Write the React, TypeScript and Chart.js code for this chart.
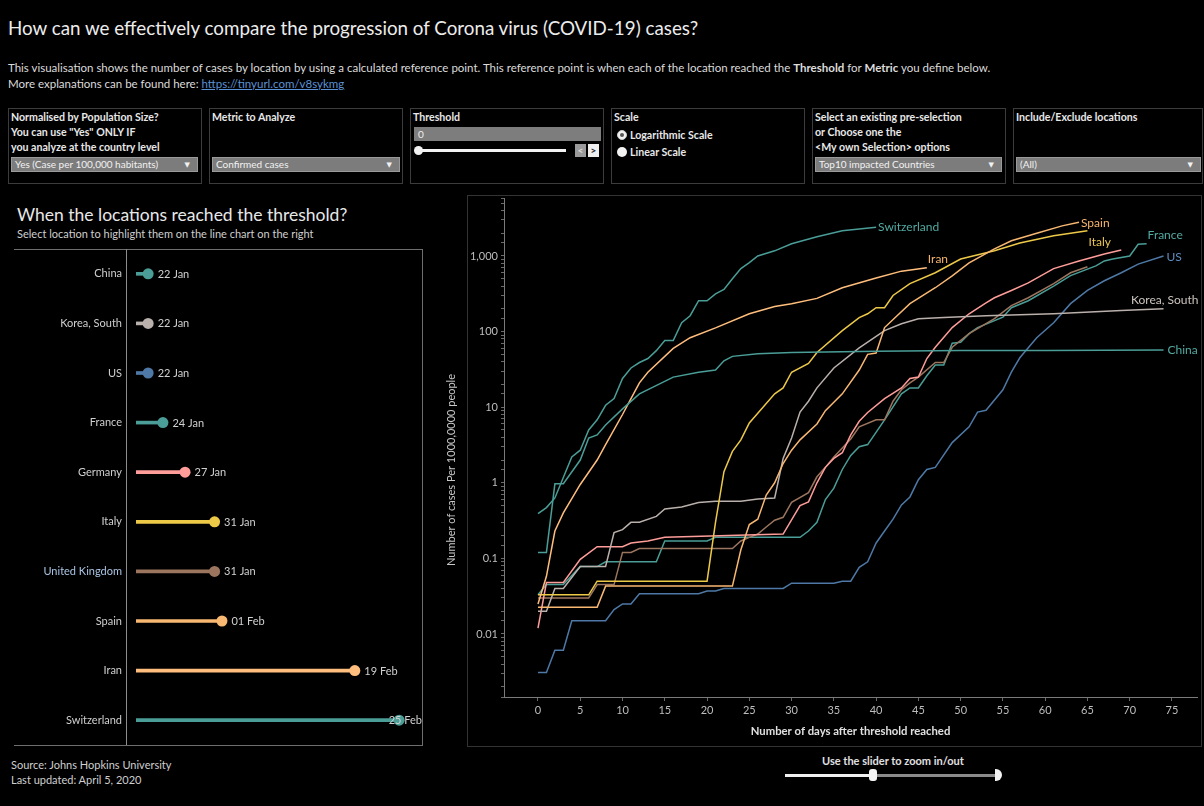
import React, { useEffect, useRef } from "react";
import { Chart, registerables } from "chart.js";
Chart.register(...registerables);

const FONT = "Lato, 'Noto Sans', 'DejaVu Sans', sans-serif";

// ---------------- Lollipop data ----------------
const locations = ["China", "Korea, South", "US", "France", "Germany", "Italy", "United Kingdom", "Spain", "Iran", "Switzerland"];
const thresholdDates = ["2020-01-22", "2020-01-22", "2020-01-22", "2020-01-24", "2020-01-27", "2020-01-31", "2020-01-31", "2020-02-01", "2020-02-19", "2020-02-25"];
const thresholdLabels = ["22 Jan", "22 Jan", "22 Jan", "24 Jan", "27 Jan", "31 Jan", "31 Jan", "01 Feb", "19 Feb", "25 Feb"];

// ---------------- Progression data (days after threshold, cases per 100k) ----------------
const chinaDays = [0, 1, 2, 3, 5, 6, 7, 8, 10, 12, 16, 19, 21, 22, 23, 26, 30, 40, 50, 60, 74];
const chinaCases = [0.12, 0.12, 0.97, 0.97, 2.0, 3.9, 4.3, 5.8, 9.5, 15, 25, 29, 31, 41, 47, 51, 53, 55, 56, 56, 57];

const switzerlandDays = [0, 1, 2, 4, 5, 6, 7, 8, 9, 10, 11, 12, 13, 14, 15, 16, 17, 18, 19, 20, 21, 22, 23, 24, 25, 26, 28, 30, 33, 36, 40];
const switzerlandCases = [0.39, 0.47, 0.63, 2.2, 2.7, 5.0, 6.8, 10.6, 13, 24, 33, 39, 44, 56, 76, 76, 131, 162, 256, 256, 316, 360, 500, 680, 815, 1000, 1170, 1450, 1800, 2150, 2400];

const iranDays = [0, 1, 2, 3, 5, 7, 8, 10, 11, 12, 13, 16, 18, 21, 25, 28, 30, 33, 36, 40, 43, 46];
const iranCases = [0.025, 0.058, 0.23, 0.4, 0.95, 2.0, 3.2, 8, 13, 21, 29, 60, 83, 112, 172, 215, 233, 275, 380, 510, 630, 700];

const spainDays = [0, 7, 8, 23, 24, 25, 26, 27, 28, 29, 30, 31, 33, 34, 36, 38, 39, 40, 41, 44, 47, 49, 51, 54, 56, 59, 62, 64];
const spainCases = [0.0225, 0.0225, 0.043, 0.043, 0.13, 0.28, 0.33, 0.69, 1.0, 1.8, 2.7, 3.7, 6, 9, 15, 31, 50, 52, 113, 234, 380, 545, 810, 1240, 1590, 2000, 2500, 2800];

const italyDays = [0, 6, 7, 20, 21, 22, 23, 24, 25, 26, 28, 29, 30, 32, 33, 36, 38, 39, 40, 41, 42, 44, 47, 50, 54, 57, 61, 65];
const italyCases = [0.033, 0.033, 0.05, 0.05, 0.3, 1.4, 2.6, 3.7, 6.2, 8.3, 15, 18, 29, 38, 53, 103, 153, 172, 207, 207, 300, 430, 600, 910, 1170, 1480, 1850, 2150];

const koreaDays = [0, 1, 2, 3, 5, 8, 9, 10, 11, 12, 14, 15, 17, 19, 21, 24, 26, 28, 29, 30, 31, 32, 33, 35, 38, 41, 43, 45, 48, 53, 61, 69, 74];
const koreaCases = [0.02, 0.02, 0.04, 0.04, 0.078, 0.078, 0.22, 0.24, 0.3, 0.3, 0.36, 0.45, 0.48, 0.55, 0.57, 0.57, 0.61, 0.63, 2.1, 3.9, 8.6, 12, 18, 33, 61, 103, 127, 148, 153, 162, 172, 190, 200];

const germanyDays = [0, 1, 3, 5, 7, 10, 11, 13, 15, 29, 31, 32, 33, 34, 35, 36, 37, 38, 39, 41, 43, 44, 45, 46, 47, 49, 51, 53, 54, 56, 58, 61, 64, 67, 69];
const germanyCases = [0.012, 0.048, 0.048, 0.097, 0.143, 0.143, 0.16, 0.17, 0.19, 0.21, 0.5, 0.56, 1.0, 1.6, 2.1, 2.5, 4.3, 6.5, 8.5, 13, 18, 24, 25, 44, 62, 113, 172, 240, 280, 350, 440, 680, 860, 1060, 1200];

const ukDays = [0, 6, 7, 9, 10, 11, 12, 23, 24, 25, 26, 27, 28, 29, 30, 32, 33, 34, 35, 37, 38, 40, 41, 42, 43, 44, 45, 47, 48, 49, 51, 54, 56, 58, 61, 63, 65];
const ukCases = [0.03, 0.03, 0.045, 0.045, 0.12, 0.12, 0.135, 0.135, 0.17, 0.19, 0.21, 0.26, 0.32, 0.35, 0.55, 0.74, 1.2, 1.6, 2.2, 3.8, 5.5, 6.8, 6.8, 12, 17, 21, 25, 39, 39, 62, 94, 148, 220, 280, 430, 600, 720];

const franceDays = [0, 1, 3, 5, 7, 8, 14, 15, 20, 21, 31, 32, 33, 34, 35, 36, 37, 38, 39, 41, 43, 44, 45, 46, 47, 48, 49, 50, 51, 52, 55, 56, 58, 61, 63, 66, 67, 68, 70, 71, 72];
const franceCases = [0.033, 0.045, 0.045, 0.078, 0.078, 0.09, 0.09, 0.17, 0.17, 0.19, 0.19, 0.23, 0.3, 0.6, 0.85, 1.5, 2.3, 3.0, 3.2, 6.8, 15, 18, 18, 26, 36, 36, 70, 72, 94, 113, 155, 207, 256, 400, 550, 740, 860, 910, 1000, 1430, 1450];

const usDays = [0, 1, 2, 3, 4, 8, 9, 10, 11, 12, 19, 20, 21, 22, 29, 30, 35, 36, 37, 38, 39, 40, 41, 42, 43, 44, 45, 46, 47, 49, 51, 52, 53, 55, 56, 57, 59, 61, 63, 65, 67, 69, 71, 74];
const usCases = [0.0031, 0.0031, 0.0061, 0.0061, 0.015, 0.015, 0.021, 0.025, 0.025, 0.034, 0.034, 0.037, 0.037, 0.04, 0.04, 0.047, 0.047, 0.05, 0.05, 0.076, 0.09, 0.16, 0.23, 0.33, 0.51, 0.65, 1.1, 1.5, 1.6, 3.4, 5.5, 8.6, 9.1, 17, 29, 45, 83, 131, 234, 350, 470, 600, 780, 1000];

const dayTicks = [0, 5, 10, 15, 20, 25, 30, 35, 40, 45, 50, 55, 60, 65, 70, 75];
const yLabelValues = [0.01, 0.1, 1, 10, 100, 1000];
const yAxisTitle = "Number of cases Per 1000,0000 people";
const xAxisTitle = "Number of days after threshold reached";

// ---------------- Styles ----------------
const TEAL = "#4a9e97";
const colorByLocation: Record<string, string> = {
  China: TEAL,
  "Korea, South": "#bab0ac",
  US: "#4e79a7",
  France: TEAL,
  Germany: "#ff9d9a",
  Italy: "#edc948",
  "United Kingdom": "#9c755f",
  Spain: "#f9b872",
  Iran: "#ffbe7d",
  Switzerland: TEAL,
};
const labelColor: Record<string, string> = {
  Switzerland: "#52aaa2",
  Iran: "#f5b46e",
  Spain: "#f5b46e",
  Italy: "#e8c550",
  France: "#52aaa2",
  US: "#5f8dc0",
  "Korea, South": "#cbc3be",
  China: "#52aaa2",
};
const endLabelStyle: Record<string, { dx: number; dy: number; align: CanvasTextAlign }> = {
  Switzerland: { dx: 2, dy: 0, align: "left" },
  Iran: { dx: 1, dy: -9, align: "left" },
  Spain: { dx: 2, dy: 1, align: "left" },
  Italy: { dx: 1, dy: 11, align: "left" },
  France: { dx: 1, dy: -9, align: "left" },
  US: { dx: 3, dy: 1, align: "left" },
  "Korea, South": { dx: 35, dy: -9, align: "right" },
  China: { dx: 4, dy: 0, align: "left" },
};

function dayOfYear(iso: string) {
  const [y, m, d] = iso.split("-").map(Number);
  return (Date.UTC(y, m - 1, d) - Date.UTC(y, 0, 1)) / 86400000;
}

function Lollipop() {
  const ref = useRef<HTMLCanvasElement>(null);
  useEffect(() => {
    const dayNums = thresholdDates.map(dayOfYear);
    const colors = locations.map((l) => colorByLocation[l]);
    const stemStart = dayOfYear("2020-01-20") + 0.4;
    const axisMin = dayOfYear("2020-01-19");
    const axisMax = dayOfYear("2020-02-28") + 0.1;
    const labelPlugin = {
      id: "dateLabels",
      afterDatasetsDraw(chart: any) {
        const meta = chart.getDatasetMeta(0);
        const ctx = chart.ctx;
        ctx.save();
        ctx.font = `11px ${FONT}`;
        ctx.fillStyle = "#d0d0d0";
        ctx.textBaseline = "middle";
        ctx.textAlign = "left";
        meta.data.forEach((pt: any, i: number) => {
          const txt = thresholdLabels[i];
          const w = ctx.measureText(txt).width;
          let x = pt.x + 9.5;
          if (x + w > chart.chartArea.right) x = chart.chartArea.right - w;
          ctx.fillText(txt, x, pt.y + 0.5);
        });
        ctx.restore();
      },
    };
    const chart = new Chart(ref.current as HTMLCanvasElement, {
      type: "bar",
      data: {
        labels: locations,
        datasets: [
          {
            type: "line",
            data: dayNums,
            showLine: false,
            pointRadius: 5.5,
            pointHoverRadius: 5.5,
            pointBackgroundColor: colors,
            pointBorderWidth: 0,
            clip: false,
            order: 0,
          } as any,
          {
            type: "bar",
            data: dayNums.map((d) => [stemStart, d]),
            backgroundColor: colors,
            barThickness: 3,
            borderWidth: 0,
            order: 1,
          } as any,
        ],
      },
      options: {
        indexAxis: "y",
        animation: false,
        responsive: false,
        events: [],
        layout: { autoPadding: false, padding: { top: 0, right: 2, bottom: 0, left: 0 } },
        plugins: { legend: { display: false }, tooltip: { enabled: false } },
        scales: {
          x: { type: "linear", min: axisMin, max: axisMax, display: false },
          y: {
            type: "category",
            grid: { display: false, drawTicks: false },
            border: { display: true, color: "#8c8c8c", width: 1 },
            ticks: {
              color: (c: any) => (locations[c.index] === "United Kingdom" ? "#a9c4e4" : "#cfcfcf"),
              font: { family: FONT, size: 11 },
              padding: 4,
            },
            afterFit: (s: any) => {
              s.width = 112;
              s.paddingTop = 0;
              s.paddingBottom = 0;
            },
          } as any,
        },
      } as any,
      plugins: [labelPlugin],
    });
    return () => chart.destroy();
  }, []);
  return <canvas ref={ref} width={410} height={496} style={{ position: "absolute", left: 14, top: 249, width: 410, height: 496 }} />;
}

function Progression() {
  const ref = useRef<HTMLCanvasElement>(null);
  useEffect(() => {
    const seriesList = [
      { name: "Switzerland", days: switzerlandDays, cases: switzerlandCases },
      { name: "China", days: chinaDays, cases: chinaCases },
      { name: "Iran", days: iranDays, cases: iranCases },
      { name: "Spain", days: spainDays, cases: spainCases },
      { name: "Italy", days: italyDays, cases: italyCases },
      { name: "Korea, South", days: koreaDays, cases: koreaCases },
      { name: "Germany", days: germanyDays, cases: germanyCases },
      { name: "United Kingdom", days: ukDays, cases: ukCases },
      { name: "France", days: franceDays, cases: franceCases },
      { name: "US", days: usDays, cases: usCases },
    ];
    const datasets = seriesList.map((s) => ({
      label: s.name,
      data: s.days.map((d, i) => ({ x: d, y: s.cases[i] })),
      borderColor: colorByLocation[s.name],
      backgroundColor: colorByLocation[s.name],
      borderWidth: 1.5,
      pointRadius: 0,
      tension: 0,
      fill: false,
    }));
    const endLabels = {
      id: "endLabels",
      afterDatasetsDraw(chart: any) {
        const ctx = chart.ctx;
        ctx.save();
        ctx.font = `12px ${FONT}`;
        ctx.textBaseline = "middle";
        chart.data.datasets.forEach((ds: any, i: number) => {
          const st = endLabelStyle[ds.label];
          if (!st) return;
          const meta = chart.getDatasetMeta(i);
          const pt = meta.data[meta.data.length - 1];
          ctx.fillStyle = labelColor[ds.label];
          ctx.textAlign = st.align;
          ctx.fillText(ds.label, pt.x + st.dx, pt.y + st.dy);
        });
        // rotated y-axis title, placed like the original (slightly below centre)
        ctx.save();
        ctx.translate(11, 470 - 195);
        ctx.rotate(-Math.PI / 2);
        ctx.font = `11px ${FONT}`;
        ctx.fillStyle = "#c8c8c8";
        ctx.textAlign = "center";
        ctx.fillText(yAxisTitle, 0, 0);
        ctx.restore();
        ctx.restore();
      },
    };
    const fmt = (v: number) => v.toLocaleString("en-US", { maximumFractionDigits: 3 });
    const chart = new Chart(ref.current as HTMLCanvasElement, {
      type: "line",
      data: { datasets },
      options: {
        animation: false,
        responsive: false,
        events: [],
        layout: { autoPadding: false, padding: { top: 3, right: 7, left: 0, bottom: 0 } },
        plugins: { legend: { display: false }, tooltip: { enabled: false } },
        scales: {
          x: {
            type: "linear",
            min: -4.02,
            max: 77.96,
            afterBuildTicks: (s: any) => {
              s.ticks = dayTicks.map((v) => ({ value: v }));
            },
            grid: { display: true, drawOnChartArea: false, drawTicks: true, tickLength: 4, color: "#6a6a6a" },
            border: { display: true, color: "#7a7a7a" },
            ticks: { color: "#bdbdbd", font: { family: FONT, size: 11 }, padding: 3, maxRotation: 0, autoSkip: false },
            title: {
              display: true,
              text: xAxisTitle,
              color: "#e0e0e0",
              font: { family: FONT, size: 11.3, weight: "bold" },
              padding: { top: 4, bottom: 12 },
            },
            afterFit: (s: any) => {
              s.height = 53;
              s.paddingLeft = 0;
              s.paddingRight = 0;
            },
          },
          y: {
            type: "logarithmic",
            min: 0.001468,
            max: 5845,
            grid: { display: true, drawOnChartArea: false, drawTicks: true, tickLength: 3, color: "#6a6a6a" },
            border: { display: true, color: "#7a7a7a" },
            ticks: {
              color: "#bdbdbd",
              font: { family: FONT, size: 11 },
              padding: 3,
              autoSkip: false,
              callback: (value: any) => {
                const v = Number(value);
                const hit = yLabelValues.find((t) => Math.abs(v - t) / t < 1e-6);
                return hit !== undefined ? fmt(hit) : "";
              },
            },
            title: { display: false },
            afterFit: (s: any) => {
              s.width = 64;
              s.paddingTop = 0;
              s.paddingBottom = 0;
            },
          },
        },
      } as any,
      plugins: [endLabels],
    });
    return () => chart.destroy();
  }, []);
  return <canvas ref={ref} width={764} height={555} style={{ position: "absolute", left: 440, top: 195, width: 764, height: 555 }} />;
}

const abs = (left: number, top: number, extra: React.CSSProperties = {}): React.CSSProperties => ({
  position: "absolute",
  left,
  top,
  whiteSpace: "nowrap",
  ...extra,
});

function Dropdown({ left, top, width, text }: { left: number; top: number; width: number; text: string }) {
  return (
    <div
      style={abs(left, top, {
        width,
        height: 15,
        background: "#7c7c7c",
        border: "1px solid #9a9a9a",
        boxSizing: "border-box",
        color: "#f2f2f2",
        font: `10px ${FONT}`,
        lineHeight: "13px",
        paddingLeft: 3,
      })}
    >
      {text}
      <span style={{ position: "absolute", right: 7, top: 0, fontSize: 7 }}>▼</span>
    </div>
  );
}

const boxLefts = [8, 209, 410, 611, 812, 1013];

function FilterBox({ i, lines, children }: { i: number; lines: string[]; children?: React.ReactNode }) {
  const left = boxLefts[i];
  return (
    <>
      <div style={abs(left, 108, { width: i === 5 ? 190 : 194, height: 76, border: "1px solid #3c3c3c", boxSizing: "border-box" })} />
      {lines.map((l, k) => (
        <div key={k} style={abs(left + 3, 110 + k * 15, { font: `bold 10.6px ${FONT}`, color: "#e8e8e8", lineHeight: "15px" })}>
          {l}
        </div>
      ))}
      {children}
    </>
  );
}

export default function App() {
  useEffect(() => {
    document.body.style.margin = "0";
    document.body.style.background = "#000";
  }, []);
  return (
    <div style={{ position: "absolute", left: 0, top: 0, width: 1204, height: 806, background: "#000", overflow: "hidden", fontFamily: FONT }}>
      {/* Header */}
      <div style={abs(8, 17, { font: `18.8px ${FONT}`, color: "#ececec", lineHeight: "22px" })}>
        How can we effectively compare the progression of Corona virus (COVID-19) cases?
      </div>
      <div style={abs(8, 60, { font: `11.5px ${FONT}`, color: "#dcdcdc", lineHeight: "16px" })}>
        This visualisation shows the number of cases by location by using a calculated reference point. This reference point is when each of the location reached the <b>Threshold</b> for <b>Metric</b> you define below.
        <br />
        More explanations can be found here: <span style={{ color: "#5b92d6", textDecoration: "underline" }}>https://tinyurl.com/v8sykmg</span>
      </div>

      {/* Filters */}
      <FilterBox i={0} lines={["Normalised by Population Size?", "You can use \"Yes\" ONLY IF", "you analyze at the country level"]}>
        <Dropdown left={11} top={157} width={187} text="Yes (Case per 100,000 habitants)" />
      </FilterBox>
      <FilterBox i={1} lines={["Metric to Analyze"]}>
        <Dropdown left={212} top={157} width={188} text="Confirmed cases" />
      </FilterBox>
      <FilterBox i={2} lines={["Threshold"]}>
        <div style={abs(414, 127, { width: 187, height: 14, background: "#7d7d7d", color: "#eee", font: `10px ${FONT}`, lineHeight: "14px", paddingLeft: 4, boxSizing: "border-box" })}>0</div>
        <div style={abs(416, 149, { width: 150, height: 3, background: "#f2f2f2" })} />
        <div style={abs(414, 146, { width: 9, height: 9, borderRadius: 5, background: "#f2f2f2" })} />
        <div style={abs(575, 144, { width: 11, height: 13, background: "#9a9a9a", color: "#dcdcdc", font: `bold 10px ${FONT}`, lineHeight: "13px", textAlign: "center" })}>&lt;</div>
        <div style={abs(588, 144, { width: 11, height: 13, background: "#efefef", color: "#222", font: `bold 10px ${FONT}`, lineHeight: "13px", textAlign: "center" })}>&gt;</div>
      </FilterBox>
      <FilterBox i={3} lines={["Scale"]}>
        <div style={abs(617, 130, { width: 10, height: 10, borderRadius: 6, background: "#f2f2f2", boxSizing: "border-box", border: "1px solid #ccc" })} />
        <div style={abs(620, 133, { width: 4, height: 4, borderRadius: 3, background: "#555" })} />
        <div style={abs(630, 128, { font: `bold 10.6px ${FONT}`, color: "#e8e8e8", lineHeight: "15px" })}>Logarithmic Scale</div>
        <div style={abs(617, 147, { width: 10, height: 10, borderRadius: 6, background: "#f2f2f2" })} />
        <div style={abs(630, 145, { font: `bold 10.6px ${FONT}`, color: "#e8e8e8", lineHeight: "15px" })}>Linear Scale</div>
      </FilterBox>
      <FilterBox i={4} lines={["Select an existing pre-selection", "or Choose one the", "<My own Selection> options"]}>
        <Dropdown left={815} top={157} width={187} text="Top10 impacted Countries" />
      </FilterBox>
      <FilterBox i={5} lines={["Include/Exclude locations"]}>
        <Dropdown left={1016} top={157} width={185} text="(All)" />
      </FilterBox>

      {/* Left panel */}
      <div style={abs(17, 205, { font: `17.5px ${FONT}`, color: "#e8e8e8", lineHeight: "20px" })}>When the locations reached the threshold?</div>
      <div style={abs(17, 227, { font: `11px ${FONT}`, color: "#cfcfcf", lineHeight: "14px" })}>Select location to highlight them on the line chart on the right</div>
      <div style={abs(14, 249, { width: 408, height: 495, borderTop: "1px solid #6e6e6e", borderBottom: "1px solid #6e6e6e", borderRight: "1px solid #6e6e6e" })} />
      <Lollipop />
      <div style={abs(11, 757, { font: `11px ${FONT}`, color: "#cfcfcf", lineHeight: "15px" })}>
        Source: Johns Hopkins University
        <br />
        Last updated: April 5, 2020
      </div>

      {/* Right panel */}
      <div style={abs(467, 195, { width: 735, height: 552, border: "1px solid #333", boxSizing: "border-box" })} />
      <Progression />

      {/* Zoom slider */}
      <div style={abs(822, 754, { font: `bold 11px ${FONT}`, color: "#e0e0e0", lineHeight: "14px" })}>Use the slider to zoom in/out</div>
      <div style={abs(785, 774, { width: 88, height: 3, background: "#f0f0f0" })} />
      <div style={abs(873, 774, { width: 125, height: 3, background: "#8a8a8a" })} />
      <div style={abs(869, 769, { width: 8, height: 12, borderRadius: 3, background: "#f4f4f4" })} />
      <div style={abs(995, 769, { width: 7, height: 12, borderRadius: "0 6px 6px 0", background: "#f4f4f4" })} />
    </div>
  );
}
